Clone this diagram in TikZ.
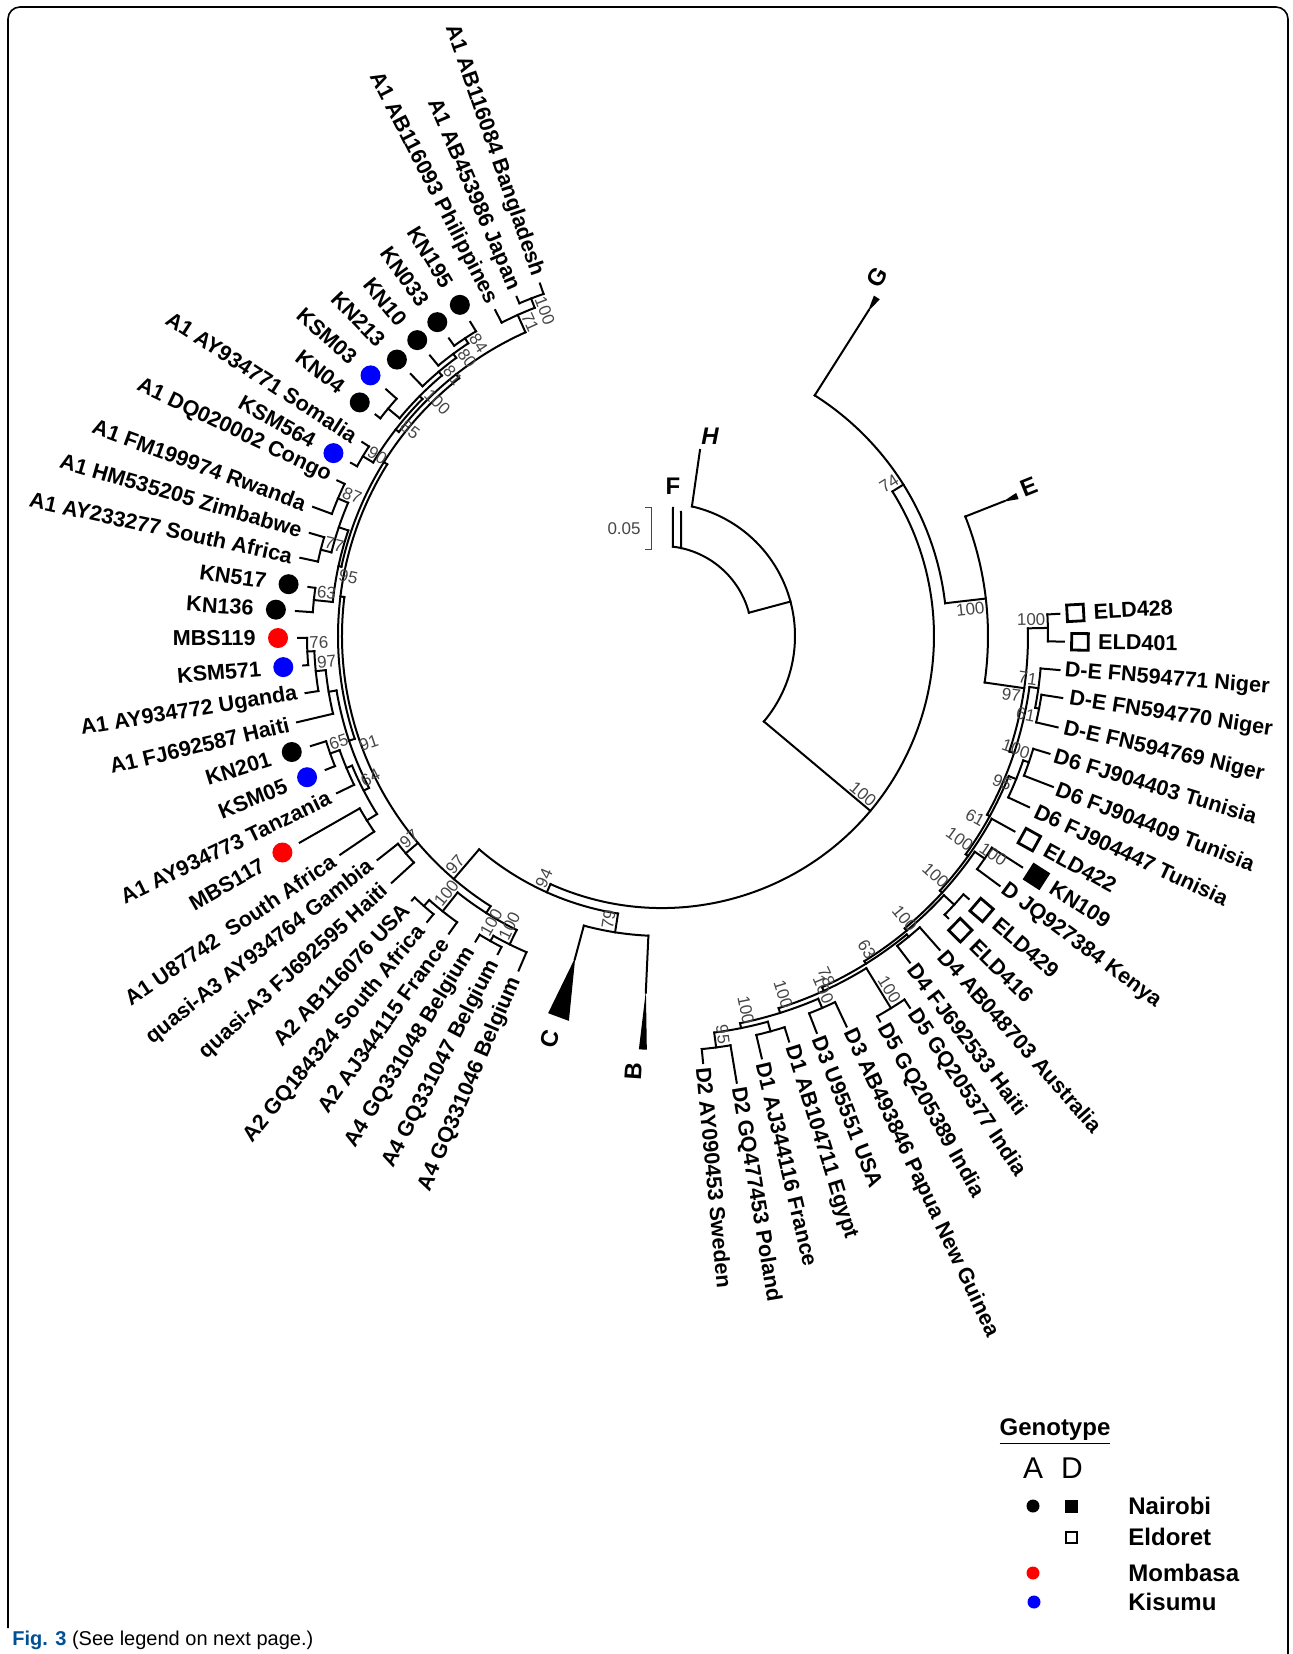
\documentclass[tikz,border=0pt]{standalone}
\usepackage{fontspec}
\setmainfont{Liberation Sans}
\usepackage{tikz}
\definecolor{mombasared}{RGB}{255, 0, 0}
\definecolor{kisumublue}{RGB}{0, 0, 255}
\definecolor{bootgray}{RGB}{70, 70, 70}
\definecolor{figblue}{RGB}{0, 80, 150}
% radius, from angle, to angle
\newcommand{\brarc}[3]{\draw[branch] (#2:#1) arc[start angle=#2, end angle=#3, radius=#1*0.5pt];}
% angle, inner radius, outer radius
\newcommand{\brrad}[3]{\draw[branch] (#1:#2) -- (#1:#3);}

\begin{document}
\begin{tikzpicture}[
    x=0.5pt, y=0.5pt,
    branch/.style={line width=1pt, line cap=rect},
    tiplab/.style={font=\fontsize{10.8}{12}\selectfont\bfseries, inner sep=0pt},
    bootlab/.style={font=\fontsize{8.5}{10}\selectfont, text=bootgray, inner sep=1pt},
    cladelab/.style={font=\fontsize{12}{14}\selectfont\bfseries, inner sep=0pt},
    dotA/.style={circle, inner sep=0pt, minimum size=10pt},
    sqD/.style={rectangle, draw, line width=1.4pt, inner sep=0pt, minimum size=8.3pt},
    sqN/.style={rectangle, fill=black, inner sep=0pt, minimum size=10pt},
    legtitle/.style={font=\fontsize{12}{14}\selectfont\bfseries},
    legcol/.style={font=\fontsize{15}{17}\selectfont},
    legname/.style={font=\fontsize{12}{14}\selectfont\bfseries, anchor=west, inner sep=0pt},
    legdot/.style={circle, inner sep=0pt, minimum size=6.5pt},
    legsq/.style={rectangle, inner sep=0pt, minimum size=6.5pt}
]
\useasboundingbox (-662,-1018) rectangle (631,636);

% frame
\draw[line width=0.8pt, rounded corners=6pt] (-654,-992) -- (-654,629) -- (626,629) -- (626,-1018);

% inner clades F and H
\brarc{90}{15}{83}
\draw[branch] (83:90) -- (11,128);
\draw[branch] (77.8:90) -- (19,124);
\brrad{15}{90}{133}
\brarc{133}{-40}{77}
\draw[branch] (77:133) -- (38,186);
\brrad{-40}{133}{272}
\brarc{272}{245.8}{392.1}
\node[cladelab] (labF) at (11,150) {F};
\node[cladelab] (labH) at (48,200) {\itshape H};
\draw[bootgray, line width=0.5pt] (-17,128) -- (-10,128) -- (-10,86) -- (-17,86);
\node[bootlab, anchor=east] (scale) at (-19,107) {0.05};

% G and E
\brrad{32.1}{272}{285}
\brarc{285}{6.6}{57.6}
\brrad{57.6}{285}{386}
\fill (57.6:384) -- (57.1:401) -- (58.1:401) -- cycle;
\brrad{6.6}{285}{326}
\brarc{326}{-8.2}{21.5}
\brrad{21.5}{326}{368}
\fill (21.5:366) -- (21.0:382) -- (22.0:382) -- cycle;
\node[cladelab, rotate=59] (labG) at (59:418) {G};
\node[cladelab, rotate=22] (labE) at (22.2:396) {E};

% D clade
\brrad{-8.2}{326}{366}
\brarc{366}{341.6}{361.2}
\brrad{361.2}{366}{386} \brarc{386}{359.2}{363.2} \brrad{359.2}{386}{402} \brrad{363.2}{386}{398}
\brrad{341.6}{366}{371} \brarc{371}{331.2}{352.1}
\brrad{352.1}{371}{380} \brarc{380}{349.1}{355.1} \brrad{355.1}{380}{399}
\brrad{349.1}{380}{384} \brarc{384}{347}{351.2} \brrad{347}{384}{406} \brrad{351.2}{384}{405}
\brrad{331.2}{371}{374} \brarc{374}{324.3}{338}
\brrad{338}{374}{382} \brarc{382}{335}{341} \brrad{335}{382}{405}
\brrad{341}{382}{388} \brarc{388}{338.9}{343.1} \brrad{338.9}{388}{419} \brrad{343.1}{388}{405}
\brrad{324.3}{374}{377} \brarc{377}{317.5}{331} \brrad{331}{377}{403}
\brrad{317.5}{377}{380} \brarc{380}{309.7}{325.4}
\brrad{325.4}{380}{392} \brarc{392}{323.5}{327.3} \brrad{323.5}{392}{420} \brrad{327.3}{392}{428}
\brrad{309.7}{380}{383} \brarc{383}{301.9}{317.4}
\brrad{317.4}{383}{397} \brarc{397}{315.4}{319.4} \brrad{315.4}{397}{402} \brrad{319.4}{397}{404}
\brrad{301.9}{383}{386} \brarc{386}{294.5}{309.35}
\brrad{309.35}{386}{389} \brarc{389}{307.2}{311.5} \brrad{307.2}{389}{410} \brrad{311.5}{389}{419}
\brrad{294.5}{386}{390} \brarc{390}{287.4}{301.6}
\brrad{301.6}{390}{437} \brarc{437}{299.5}{303.7} \brrad{299.5}{437}{443} \brrad{303.7}{437}{447}
\brrad{287.4}{390}{395} \brarc{395}{281.4}{293.3}
\brrad{293.3}{395}{405} \brarc{405}{291.3}{295.3} \brrad{291.3}{405}{426} \brrad{295.3}{405}{432}
\brrad{281.4}{395}{400} \brarc{400}{277.5}{285.35}
\brrad{285.35}{400}{410} \brarc{410}{283.3}{287.4} \brrad{283.3}{410}{434} \brrad{287.4}{410}{425}
\brrad{277.5}{400}{415} \brarc{415}{275.5}{279.5} \brrad{275.5}{415}{429} \brrad{279.5}{415}{453}

% B and C
\brrad{245.8}{272}{281} \brarc{281}{229.4}{261}
\brrad{261}{281}{300} \brarc{300}{254.9}{267.4}
\brrad{254.9}{300}{335}
\fill (254.9:333) -- (253.2:394) -- (256.4:396) -- cycle;
\brrad{267.4}{300}{357}
\fill (267.4:355) -- (266.8:414) -- (267.9:414) -- cycle;
\node[cladelab, rotate=74.4] (labC) at (254.4:418) {C};
\node[cladelab, rotate=86.2] (labB) at (266.2:436) {B};

% A clade
\brrad{229.4}{281}{320} \brarc{320}{173}{237.6}
\brrad{220.3}{320}{336} \brarc{336}{218.2}{222.4} \brrad{218.2}{336}{362} \brrad{222.4}{336}{366}
\brrad{237.6}{320}{328} \brarc{328}{231.45}{243.7}
\brrad{231.45}{328}{352} \brarc{352}{228.6}{234.4} \brrad{234.4}{352}{366}
\brrad{228.6}{352}{360} \brarc{360}{226.6}{230.6} \brrad{226.6}{360}{364} \brrad{230.6}{360}{370}
\brrad{243.7}{328}{344} \brarc{344}{240.65}{246.8} \brrad{246.8}{344}{364}
\brrad{240.65}{344}{350} \brarc{350}{238.6}{242.7} \brrad{238.6}{350}{358} \brrad{242.7}{350}{358}
\brrad{173}{320}{324} \brarc{324}{148}{198.5}
\brrad{148}{324}{328} \brarc{328}{128.2}{167.8}
\brrad{128.2}{328}{333} \brarc{333}{114.2}{142.2}
\brrad{114.2}{333}{352} \brarc{352}{111.2}{117.1} \brrad{117.1}{352}{366}
\brrad{111.2}{352}{362} \brarc{362}{109.1}{113.2} \brrad{109.1}{362}{373} \brrad{113.2}{362}{369}
\brrad{142.2}{333}{337} \brarc{337}{135.3}{149}
\brrad{135.3}{337}{341} \brarc{341}{130.2}{140.3}
\brrad{130.2}{341}{346} \brarc{346}{126.5}{133.8} \brrad{133.8}{346}{363}
\brrad{126.5}{346}{351} \brarc{351}{123.5}{129.6} \brrad{129.6}{351}{364}
\brrad{123.5}{351}{357} \brarc{357}{121.4}{125.6} \brrad{121.4}{357}{368} \brrad{125.6}{357}{366}
\brrad{140.3}{341}{356} \brarc{356}{138.2}{142.3} \brrad{138.2}{356}{370} \brrad{142.3}{356}{362}
\brrad{149}{337}{349} \brarc{349}{147.1}{150.9} \brrad{147.1}{349}{357} \brrad{150.9}{349}{356}
\brrad{167.8}{328}{331} \brarc{331}{161.4}{174.1}
\brrad{161.4}{331}{341} \brarc{341}{157}{165.8}
\brrad{157}{341}{352} \brarc{352}{154.4}{159.7} \brrad{154.4}{352}{360} \brrad{159.7}{352}{372}
\brrad{165.8}{341}{352} \brarc{352}{163.7}{167.8} \brrad{163.7}{352}{367} \brrad{167.8}{352}{370}
\brrad{174.1}{331}{350} \brarc{350}{172.1}{176.1} \brrad{172.1}{350}{357} \brrad{176.1}{350}{367}
\brrad{198.5}{324}{330} \brarc{330}{189.5}{207.4}
\brrad{189.5}{330}{338} \brarc{338}{185.8}{193.3} \brrad{193.3}{338}{375}
\brrad{185.8}{338}{348} \brarc{348}{182.5}{189.1} \brrad{189.1}{348}{361}
\brrad{182.5}{348}{355} \brarc{355}{180.3}{184.7} \brrad{180.3}{355}{364} \brrad{184.7}{355}{360}
\brrad{207.4}{330}{336} \brarc{336}{202.7}{212}
\brrad{202.7}{336}{342} \brarc{342}{199.5}{205.8} \brrad{205.8}{342}{361}
\brrad{199.5}{342}{352} \brarc{352}{197.4}{201.7} \brrad{197.4}{352}{368} \brrad{201.7}{352}{362}
\brrad{212}{336}{348} \brarc{348}{209.7}{214.2} \brrad{209.7}{348}{417} \brrad{214.2}{348}{389}

% bootstrap values
\node[bootlab, rotate=-40, anchor=south east] (bs01) at (320:272) {100};
\node[bootlab, rotate=6.6, anchor=north east] (bs02) at (6.6:326) {100};
\node[bootlab, rotate=32.1, anchor=south east] (bs03) at (32.1:285) {74};
\node[bootlab, rotate=65.8, anchor=south west] (bs04) at (245.8:281) {94};
\node[bootlab, rotate=81, anchor=south west] (bs05) at (261:300) {79};
\node[bootlab, rotate=49.4, anchor=south west] (bs06) at (229.4:320) {97};
\node[bootlab, rotate=-8.2, anchor=north east] (bs07) at (351.8:366) {97};
\node[bootlab, rotate=1.2, anchor=south east] (bs08) at (1.2:386) {100};
\node[bootlab, rotate=-7.9, anchor=south east] (bs09) at (352.1:380) {71};
\node[bootlab, rotate=-10.9, anchor=north east] (bs10) at (349.1:384) {61};
\node[bootlab, rotate=-19, anchor=south east] (bs11) at (341:388) {100};
\node[bootlab, rotate=-22, anchor=north east] (bs12) at (338:382) {95};
\node[bootlab, rotate=-28.8, anchor=north east] (bs13) at (331.2:374) {61};
\node[bootlab, rotate=-35.7, anchor=south east] (bs14) at (324.3:377) {100};
\node[bootlab, rotate=-34.6, anchor=south west] (bs15) at (325.4:380) {100};
\node[bootlab, rotate=-42.5, anchor=south east] (bs16) at (317.5:380) {100};
\node[bootlab, rotate=-50.65, anchor=south east] (bs17) at (309.35:389) {100};
\node[bootlab, rotate=-58.1, anchor=south east] (bs18) at (301.9:386) {63};
\node[bootlab, rotate=-65.5, anchor=south east] (bs19) at (294.5:390) {78};
\node[bootlab, rotate=-58.4, anchor=south east] (bs20) at (301.6:437) {100};
\node[bootlab, rotate=-66.7, anchor=south east] (bs21) at (293.3:405) {100};
\node[bootlab, rotate=-72.6, anchor=south east] (bs22) at (287.4:395) {100};
\node[bootlab, rotate=-78.6, anchor=south east] (bs23) at (281.4:400) {100};
\node[bootlab, rotate=-82.5, anchor=south east] (bs24) at (277.5:415) {95};
\node[bootlab, rotate=-68.8, anchor=south west] (bs25) at (111.2:362) {100};
\node[bootlab, rotate=-65.8, anchor=south west] (bs26) at (114.2:352) {71};
\node[bootlab, rotate=-56.5, anchor=south west] (bs27) at (123.5:357) {84};
\node[bootlab, rotate=-53.5, anchor=south west] (bs28) at (126.5:351) {80};
\node[bootlab, rotate=-49.8, anchor=south west] (bs29) at (130.2:346) {81};
\node[bootlab, rotate=-44.7, anchor=south west] (bs30) at (135.3:341) {100};
\node[bootlab, rotate=-37.8, anchor=south west] (bs31) at (142.2:337) {85};
\node[bootlab, rotate=-31, anchor=south west] (bs32) at (149:349) {90};
\node[bootlab, rotate=-23, anchor=south west] (bs33) at (157:352) {87};
\node[bootlab, rotate=-14.2, anchor=south west] (bs34) at (165.8:352) {77};
\node[bootlab, rotate=-12.2, anchor=north west] (bs35) at (167.8:331) {95};
\node[bootlab, rotate=-5.9, anchor=south west] (bs36) at (174.1:350) {63};
\node[bootlab, rotate=2.5, anchor=south west] (bs37) at (182.5:355) {76};
\node[bootlab, rotate=5.8, anchor=south west] (bs38) at (185.8:348) {97};
\node[bootlab, rotate=18.5, anchor=north west] (bs39) at (198.5:324) {91};
\node[bootlab, rotate=19.5, anchor=south west] (bs40) at (199.5:352) {65};
\node[bootlab, rotate=27.4, anchor=south west] (bs41) at (207.4:336) {64};
\node[bootlab, rotate=40.3, anchor=south west] (bs42) at (220.3:336) {97};
\node[bootlab, rotate=51.45, anchor=south west] (bs43) at (231.45:352) {100};
\node[bootlab, rotate=60.65, anchor=south west] (bs44) at (240.65:350) {100};
\node[bootlab, rotate=63.7, anchor=south west] (bs45) at (243.7:344) {100};

% genotype A tips
\node[tiplab, rotate=-70.9, anchor=east] (a01) at (109.1:381) {A1 AB116084 Bangladesh};
\node[tiplab, rotate=-66.8, anchor=east] (a02) at (113.2:377) {A1 AB453986 Japan};
\node[tiplab, rotate=-62.9, anchor=east] (a03) at (117.1:374) {A1 AB116093 Philippines};
\node[dotA, fill=black] (m04) at (121.4:388) {};
\node[tiplab, rotate=-58.6, anchor=east] (a04) at (121.4:410) {KN195};
\node[dotA, fill=black] (m05) at (125.6:386) {};
\node[tiplab, rotate=-54.4, anchor=east] (a05) at (125.6:408) {KN033};
\node[dotA, fill=black] (m06) at (129.6:384) {};
\node[tiplab, rotate=-50.4, anchor=east] (a06) at (129.6:406) {KN10};
\node[dotA, fill=black] (m07) at (133.8:383) {};
\node[tiplab, rotate=-46.2, anchor=east] (a07) at (133.8:405) {KN213};
\node[dotA, fill=kisumublue] (m08) at (138.2:391) {};
\node[tiplab, rotate=-41.8, anchor=east] (a08) at (138.2:413) {KSM03};
\node[dotA, fill=black] (m09) at (142.3:382) {};
\node[tiplab, rotate=-37.7, anchor=east] (a09) at (142.3:404) {KN04};
\node[tiplab, rotate=-32.9, anchor=east] (a10) at (147.1:365) {A1 AY934771 Somalia};
\node[dotA, fill=kisumublue] (m11) at (150.9:376) {};
\node[tiplab, rotate=-29.1, anchor=east] (a11) at (150.9:398) {KSM564};
\node[tiplab, rotate=-25.6, anchor=east] (a12) at (154.4:368) {A1 DQ020002 Congo};
\node[tiplab, rotate=-20.3, anchor=east] (a13) at (159.7:380) {A1 FM199974 Rwanda};
\node[tiplab, rotate=-16.3, anchor=east] (a14) at (163.7:375) {A1 HM535205 Zimbabwe};
\node[tiplab, rotate=-12.2, anchor=east] (a15) at (167.8:378) {A1 AY233277 South Africa};
\node[dotA, fill=black] (m16) at (172.1:377) {};
\node[tiplab, rotate=-7.9, anchor=east] (a16) at (172.1:399) {KN517};
\node[dotA, fill=black] (m17) at (176.1:387) {};
\node[tiplab, rotate=-3.9, anchor=east] (a17) at (176.1:409) {KN136};
\node[dotA, fill=mombasared] (m18) at (180.3:384) {};
\node[tiplab, rotate=0.3, anchor=east] (a18) at (180.3:406) {MBS119};
\node[dotA, fill=kisumublue] (m19) at (184.7:380) {};
\node[tiplab, rotate=4.7, anchor=east] (a19) at (184.7:402) {KSM571};
\node[tiplab, rotate=9.1, anchor=east] (a20) at (189.1:369) {A1 AY934772 Uganda};
\node[tiplab, rotate=13.3, anchor=east] (a21) at (193.3:383) {A1 FJ692587 Haiti};
\node[dotA, fill=black] (m22) at (197.4:388) {};
\node[tiplab, rotate=17.4, anchor=east] (a22) at (197.4:410) {KN201};
\node[dotA, fill=kisumublue] (m23) at (201.7:382) {};
\node[tiplab, rotate=21.7, anchor=east] (a23) at (201.7:404) {KSM05};
\node[tiplab, rotate=25.8, anchor=east] (a24) at (205.8:369) {A1 AY934773 Tanzania};
\node[dotA, fill=mombasared] (m25) at (209.7:437) {};
\node[tiplab, rotate=29.7, anchor=east] (a25) at (209.7:459) {MBS117};
\node[tiplab, rotate=34.2, anchor=east] (a26) at (214.2:397) {A1 U87742\ \ South Africa};
\node[tiplab, rotate=38.2, anchor=east] (a27) at (218.2:370) {quasi-A3 AY934764 Gambia};
\node[tiplab, rotate=42.4, anchor=east] (a28) at (222.4:374) {quasi-A3 FJ692595 Haiti};
\node[tiplab, rotate=46.6, anchor=east] (a29) at (226.6:372) {A2 AB116076 USA};
\node[tiplab, rotate=50.6, anchor=east] (a30) at (230.6:378) {A2 GQ184324 South Africa};
\node[tiplab, rotate=54.4, anchor=east] (a31) at (234.4:374) {A2 AJ344115 France};
\node[tiplab, rotate=58.6, anchor=east] (a32) at (238.6:366) {A4 GQ331048 Belgium};
\node[tiplab, rotate=62.7, anchor=east] (a33) at (242.7:366) {A4 GQ331047 Belgium};
\node[tiplab, rotate=66.8, anchor=east] (a34) at (246.8:372) {A4 GQ331046 Belgium};

% genotype D tips
\node[tiplab, rotate=275.5, anchor=west] (d01) at (275.5:433) {D2 AY090453 Sweden};
\node[tiplab, rotate=279.5, anchor=west] (d02) at (279.5:457) {D2 GQ477453 Poland};
\node[tiplab, rotate=283.3, anchor=west] (d03) at (283.3:438) {D1 AJ344116 France};
\node[tiplab, rotate=287.4, anchor=west] (d04) at (287.4:429) {D1 AB104711 Egypt};
\node[tiplab, rotate=291.3, anchor=west] (d05) at (291.3:430) {D3 U95551 USA};
\node[tiplab, rotate=295.3, anchor=west] (d06) at (295.3:436) {D3 AB493846 Papua New Guinea};
\node[tiplab, rotate=299.5, anchor=west] (d07) at (299.5:447) {D5 GQ205389 India};
\node[tiplab, rotate=303.7, anchor=west] (d08) at (303.7:451) {D5 GQ205377 India};
\node[tiplab, rotate=307.2, anchor=west] (d09) at (307.2:414) {D4 FJ692533 Haiti};
\node[tiplab, rotate=311.5, anchor=west] (d10) at (311.5:423) {D4 AB048703 Australia};
\node[sqD, rotate=315.4] (s11) at (315.4:419) {};
\node[tiplab, rotate=315.4, anchor=west] (d11) at (315.4:437) {ELD416};
\node[sqD, rotate=319.4] (s12) at (319.4:421) {};
\node[tiplab, rotate=319.4, anchor=west] (d12) at (319.4:439) {ELD429};
\node[tiplab, rotate=323.5, anchor=west] (d13) at (323.5:424) {D JQ927384 Kenya};
\node[sqN, rotate=327.3] (s14) at (327.3:445) {};
\node[tiplab, rotate=327.3, anchor=west] (d14) at (327.3:463) {KN109};
\node[sqD, rotate=331] (s15) at (331:420) {};
\node[tiplab, rotate=331, anchor=west] (d15) at (331:438) {ELD422};
\node[tiplab, rotate=335, anchor=west] (d16) at (335:412) {D6 FJ904447 Tunisia};
\node[tiplab, rotate=338.9, anchor=west] (d17) at (338.9:423) {D6 FJ904409 Tunisia};
\node[tiplab, rotate=343.1, anchor=west] (d18) at (343.1:410) {D6 FJ904403 Tunisia};
\node[tiplab, rotate=347, anchor=west] (d19) at (347:412) {D-E FN594769 Niger};
\node[tiplab, rotate=351.2, anchor=west] (d20) at (351.2:412) {D-E FN594770 Niger};
\node[tiplab, rotate=355.1, anchor=west] (d21) at (355.1:404) {D-E FN594771 Niger};
\node[sqD, rotate=359.2] (s22) at (359.2:418) {};
\node[tiplab, rotate=359.2, anchor=west] (d22) at (359.2:436) {ELD401};
\node[sqD, rotate=3.2] (s23) at (3.2:414) {};
\node[tiplab, rotate=3.2, anchor=west] (d23) at (3.2:432) {ELD428};

% legend
\node[legtitle] (gtitle) at (393,-796) {\underline{Genotype}};
\node[legcol] (colA) at (371,-832) {A};
\node[legcol] (colD) at (410,-832) {D};
\node[legdot, fill=black] (kNA) at (371,-870) {};
\node[legsq, fill=black] (kND) at (409,-870) {};
\node[legname] (nairobi) at (466,-870) {Nairobi};
\node[legsq, draw, line width=1pt, minimum size=5.5pt] (kED) at (409,-901) {};
\node[legname] (eldoret) at (466,-901) {Eldoret};
\node[legdot, fill=mombasared] (kMA) at (371,-937) {};
\node[legname] (mombasa) at (466,-937) {Mombasa};
\node[legdot, fill=kisumublue] (kKA) at (372,-966) {};
\node[legname] (kisumu) at (466,-966) {Kisumu};

% caption
\node[anchor=west, font=\fontsize{10}{12}\selectfont, inner sep=0pt] (caption) at (-650,-1004) {\textcolor{figblue}{\bfseries Fig. 3} (See legend on next page.)};

\end{tikzpicture}
\end{document}
